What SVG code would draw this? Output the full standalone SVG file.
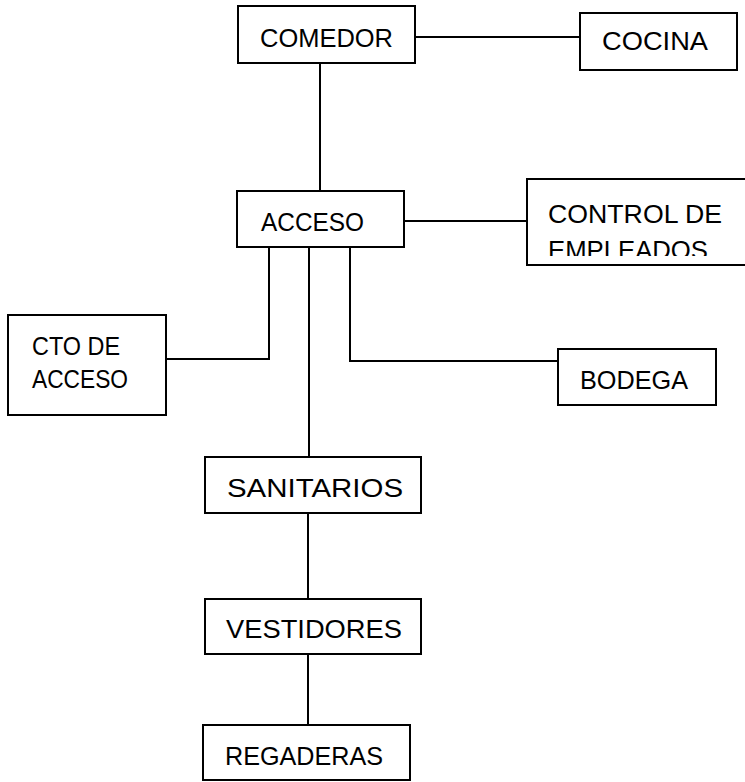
<svg xmlns="http://www.w3.org/2000/svg" width="745" height="782" viewBox="0 0 745 782">
<style>
.box{fill:#fff;stroke:#000;stroke-width:2}
.ln{fill:none;stroke:#000;stroke-width:2}
text{font-family:"Liberation Sans","DejaVu Sans",sans-serif;font-size:25px;fill:#000}
</style>
<defs>
<clipPath id="cpCtrl"><rect x="527" y="179" width="218" height="77"/></clipPath>
</defs>
<rect width="745" height="782" fill="#fff"/>
<g id="connectors">
<line class="ln" x1="415" y1="37" x2="580" y2="37"/>
<line class="ln" x1="320" y1="63" x2="320" y2="191"/>
<line class="ln" x1="404" y1="221" x2="527" y2="221"/>
<polyline class="ln" points="269,247 269,359 166,359"/>
<polyline class="ln" points="350,247 350,361 558,361"/>
<line class="ln" x1="309" y1="247" x2="309" y2="457"/>
<line class="ln" x1="308" y1="513" x2="308" y2="599"/>
<line class="ln" x1="308" y1="654" x2="308" y2="725"/>
</g>
<g id="comedor"><rect class="box" x="238" y="6" width="177" height="57"/><text x="260" y="47" textLength="133" lengthAdjust="spacingAndGlyphs">COMEDOR</text></g>
<g id="cocina"><rect class="box" x="580" y="13" width="157" height="57"/><text x="602" y="50" textLength="106" lengthAdjust="spacingAndGlyphs">COCINA</text></g>
<g id="acceso"><rect class="box" x="237" y="191" width="167" height="56"/><text x="261" y="231" textLength="103" lengthAdjust="spacingAndGlyphs">ACCESO</text></g>
<g id="control"><rect class="box" x="527" y="179" width="230" height="86"/><g clip-path="url(#cpCtrl)"><text x="548" y="223" textLength="174" lengthAdjust="spacingAndGlyphs">CONTROL DE</text><text x="548" y="259" textLength="160" lengthAdjust="spacingAndGlyphs">EMPLEADOS</text></g></g>
<g id="cto"><rect class="box" x="8" y="315" width="158" height="100"/><text x="32" y="355" textLength="88" lengthAdjust="spacingAndGlyphs">CTO DE</text><text x="32" y="388" textLength="96" lengthAdjust="spacingAndGlyphs">ACCESO</text></g>
<g id="bodega"><rect class="box" x="558" y="349" width="158" height="56"/><text x="580" y="389" textLength="108" lengthAdjust="spacingAndGlyphs">BODEGA</text></g>
<g id="sanitarios"><rect class="box" x="205" y="457" width="216" height="56"/><text x="227" y="497" textLength="176" lengthAdjust="spacingAndGlyphs">SANITARIOS</text></g>
<g id="vestidores"><rect class="box" x="205" y="599" width="216" height="55"/><text x="226" y="638" textLength="176" lengthAdjust="spacingAndGlyphs">VESTIDORES</text></g>
<g id="regaderas"><rect class="box" x="203" y="725" width="207" height="55"/><text x="225" y="765" textLength="158" lengthAdjust="spacingAndGlyphs">REGADERAS</text></g>
</svg>
